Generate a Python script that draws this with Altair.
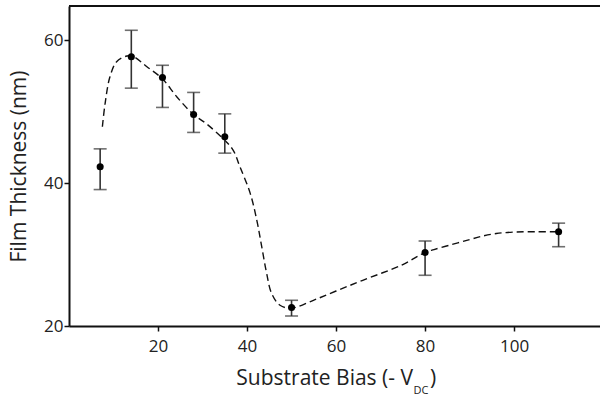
import altair as alt
import pandas as pd

# measured points
bias = [7, 14, 21, 28, 35, 50, 80, 110]
thickness = [42.3, 57.7, 54.8, 49.6, 46.5, 22.6, 30.3, 33.2]
err_hi = [44.8, 61.4, 56.5, 52.7, 49.7, 23.6, 31.9, 34.4]
err_lo = [39.1, 53.3, 50.6, 47.1, 44.2, 21.4, 27.1, 31.1]

# dashed guide curve
curve_x = [7.5, 8.1, 9.2, 10.7, 13.0, 14.5, 17.5, 21.0, 24.2, 28.0, 30.9, 35.0, 36.9,
           38.4, 40.7, 42.2, 43.3, 44.4, 45.5, 47.4, 50.0, 54.9, 60.0, 66.0, 75.0,
           80.0, 82.0, 86.0, 90.0, 93.0, 96.0, 100.0, 105.0, 110.0]
curve_y = [47.9, 51.1, 54.9, 57.0, 57.8, 57.7, 56.3, 54.6, 52.1, 49.6, 48.3, 46.0, 44.6,
           42.3, 38.6, 34.8, 31.1, 27.4, 24.6, 22.9, 22.5, 23.6, 24.9, 26.4, 28.6,
           30.3, 30.7, 31.4, 32.1, 32.6, 32.95, 33.15, 33.2, 33.2]

x_ticks = [20, 40, 60, 80, 100]
y_ticks = [20, 40, 60]

pts = pd.DataFrame({"bias": bias, "t": thickness, "hi": err_hi, "lo": err_lo})
crv = pd.DataFrame({"bias": curve_x, "t": curve_y})
one = pd.DataFrame({"k": [0]})

W, H = 531, 320
FONT = "Open Sans"

xs = alt.Scale(domain=[0, 119.3], nice=False, zero=False)
ys = alt.Scale(domain=[20, 64.8], nice=False, zero=False)

xax = alt.Axis(values=x_ticks, title=None, grid=False, domainColor="#111", domainWidth=2,
               tickColor="#111", tickWidth=1.5, tickSize=5, labelFont=FONT, labelFontSize=17,
               labelColor="#222", labelPadding=7)
yax = alt.Axis(values=y_ticks, title="Film Thickness (nm)", grid=False, domainColor="#111",
               domainWidth=2, tickColor="#111", tickWidth=1.5, tickSize=5, labelFont=FONT,
               labelFontSize=17, labelColor="#222", labelPadding=1, titleFont=FONT,
               titleFontSize=21, titleFontWeight="normal", titleColor="#222",
               titleX=-44, titleY=H / 2, titleAngle=-90, titleAlign="center",
               titleBaseline="alphabetic")

curve = alt.Chart(crv).mark_line(color="#111", strokeWidth=1.4, strokeDash=[7, 4],
                                 interpolate="catmull-rom").encode(
    x=alt.X("bias:Q", scale=xs, axis=xax),
    y=alt.Y("t:Q", scale=ys, axis=yax),
)

bars = alt.Chart(pts).mark_rule(color="#333", strokeWidth=1.6).encode(
    x=alt.X("bias:Q", scale=xs), y=alt.Y("lo:Q", scale=ys), y2="hi:Q")

cap_hi = alt.Chart(pts).mark_tick(color="#333", thickness=1.6, size=13,
                                  orient="horizontal").encode(
    x=alt.X("bias:Q", scale=xs), y=alt.Y("hi:Q", scale=ys))
cap_lo = alt.Chart(pts).mark_tick(color="#333", thickness=1.6, size=13,
                                  orient="horizontal").encode(
    x=alt.X("bias:Q", scale=xs), y=alt.Y("lo:Q", scale=ys))

dots = alt.Chart(pts).mark_circle(color="#000", opacity=1, size=50).encode(
    x=alt.X("bias:Q", scale=xs), y=alt.Y("t:Q", scale=ys))

top_line = alt.Chart(one).mark_rule(color="#111", strokeWidth=2).encode(
    y=alt.value(0))

t1 = alt.Chart(one).mark_text(text="Substrate Bias (- V", align="right",
                              baseline="alphabetic", font=FONT, fontSize=21,
                              fontWeight="normal", color="#222").encode(
    x=alt.value(344), y=alt.value(379))
t2 = alt.Chart(one).mark_text(text="DC", align="left", baseline="alphabetic", font=FONT,
                              fontSize=11, fontWeight="normal", color="#222").encode(
    x=alt.value(344.5), y=alt.value(388))
t3 = alt.Chart(one).mark_text(text=")", align="left", baseline="alphabetic", font=FONT,
                              fontSize=21, fontWeight="normal", color="#222").encode(
    x=alt.value(361), y=alt.value(379))

chart = alt.layer(curve, bars, cap_hi, cap_lo, dots, top_line, t1, t2, t3).properties(
    width=W, height=H,
    autosize=alt.AutoSizeParams(type="none"),
    padding={"left": 69, "top": 6, "right": 0, "bottom": 70},
    background="white",
).configure_view(strokeWidth=0, stroke="transparent")

chart.save("out.html", embed_options={"renderer": "svg", "actions": False})
